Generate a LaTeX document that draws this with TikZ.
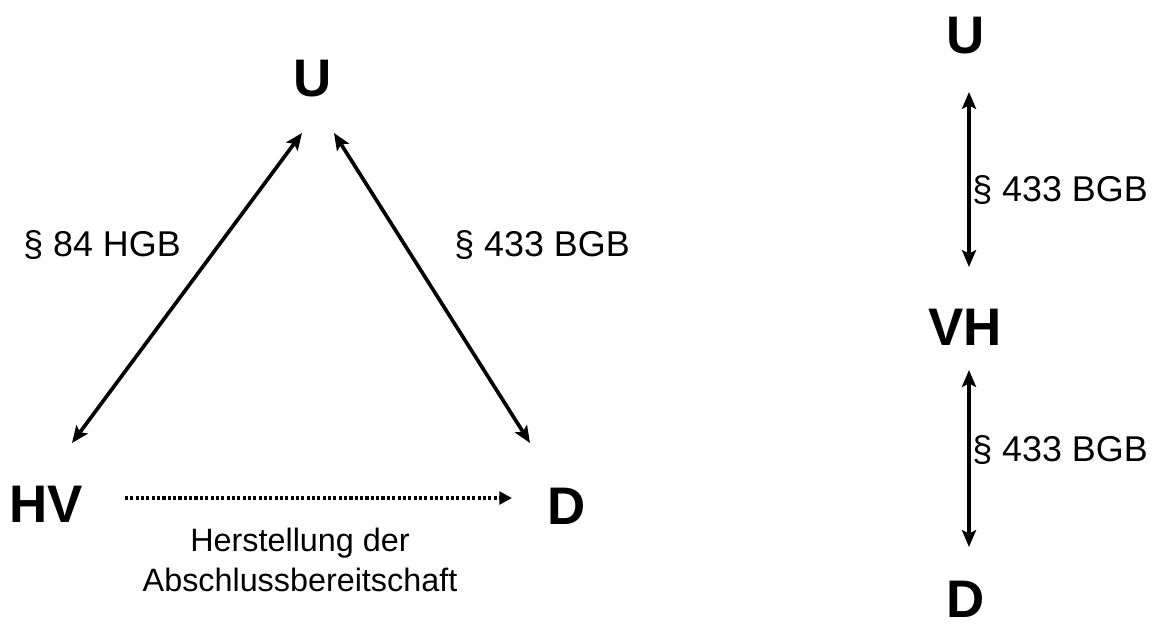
\documentclass[tikz,border=0pt]{standalone}
\usepackage{fontspec}
\setmainfont{Liberation Sans}
\usetikzlibrary{arrows.meta}
\tikzset{
    party/.style={font=\fontsize{37.6}{40}\selectfont\bfseries, inner sep=0pt},
    norm/.style={font=\fontsize{25.5}{28}\selectfont, inner sep=0pt},
    rel/.style={line width=2.6pt, {Stealth[length=12pt,width=10pt,inset=2.5pt]}-{Stealth[length=12pt,width=10pt,inset=2.5pt]}},
    prep/.style={line width=2.8pt, dash pattern=on 2.2pt off 1.6pt, -{Triangle[length=9pt,width=9pt]}}
}
\begin{document}
\begin{tikzpicture}[x=0.025cm, y=-0.025cm, line join=round]
            \useasboundingbox (0,0) rectangle (1168,626);
            % Dreieck
            \node[party] (U) at (313,79) {U};
            \node[party] (HV) at (46,504) {HV};
            \node[party] (D) at (567,506) {D};
            \node[norm] (hgb) at (102,245) {\S\ 84 HGB};
            \node[norm] (bgbl) at (542,245) {\S\ 433 BGB};
            \node[align=center, inner sep=0pt, font=\fontsize{23}{28.5}\selectfont] (abs) at (300,560) {Herstellung der\\Abschlussbereitschaft};
            \draw[rel] ([shift={(26,-61)}]HV.center) -- ([shift={(-11,54)}]U.center);
            \draw[rel] ([shift={(-37,-63)}]D.center) -- ([shift={(21,54)}]U.center);
            \draw[prep] ([shift={(79,-6)}]HV.center) -- ([shift={(-55,-8)}]D.center);
            % Kette
            \node[party] (U2) at (966,36) {U};
            \node[party] (VH) at (965,327) {VH};
            \node[party] (D2) at (966,599) {D};
            \node[norm] (bgba) at (1060,190) {\S\ 433 BGB};
            \node[norm] (bgbb) at (1060,450) {\S\ 433 BGB};
            \draw[rel] ([shift={(3,56)}]U2.center) -- ([shift={(4,-60)}]VH.center);
            \draw[rel] ([shift={(4,43)}]VH.center) -- ([shift={(3,-52)}]D2.center);
\end{tikzpicture}
\end{document}
